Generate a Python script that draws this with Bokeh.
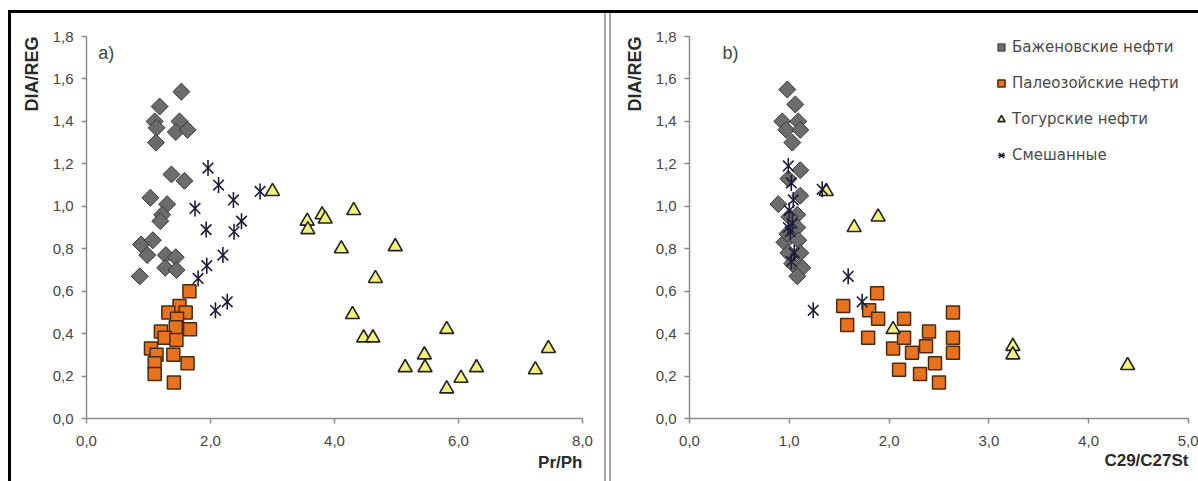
import math
from bokeh.plotting import figure
from bokeh.layouts import row, column
from bokeh.models import (Range1d, FixedTicker, CustomJSTickFormatter, Label,
                          Legend, LegendItem, Div, Title)
from bokeh.embed import file_html
from bokeh.resources import INLINE

# ---------------- data ----------------
# Panel a) : Pr/Ph vs DIA/REG
a_baz_x = [1.53, 1.18, 1.10, 1.13, 1.12, 1.50, 1.44, 1.63, 1.37, 1.58, 1.03,
           1.30, 1.22, 1.19, 0.88, 1.07, 0.98, 1.28, 1.44, 1.27, 1.45, 0.86]
a_baz_y = [1.54, 1.47, 1.40, 1.37, 1.30, 1.40, 1.35, 1.36, 1.15, 1.12, 1.04,
           1.01, 0.96, 0.93, 0.82, 0.84, 0.77, 0.77, 0.76, 0.71, 0.70, 0.67]

a_pal_x = [1.66, 1.50, 1.32, 1.60, 1.46, 1.20, 1.67, 1.44, 1.26, 1.45, 1.04,
           1.13, 1.40, 1.63, 1.10, 1.10, 1.41]
a_pal_y = [0.60, 0.53, 0.50, 0.50, 0.47, 0.41, 0.42, 0.43, 0.38, 0.37, 0.33,
           0.30, 0.30, 0.26, 0.26, 0.21, 0.17]

a_tog_x = [3.00, 3.56, 3.57, 3.80, 3.85, 4.31, 4.11, 4.98, 4.66, 4.29, 4.47,
           4.62, 5.81, 5.45, 5.46, 5.14, 5.81, 6.04, 6.29, 7.24, 7.45]
a_tog_y = [1.07, 0.93, 0.89, 0.96, 0.94, 0.98, 0.80, 0.81, 0.66, 0.49, 0.38,
           0.38, 0.42, 0.30, 0.24, 0.24, 0.14, 0.19, 0.24, 0.23, 0.33]

a_mix_x = [1.96, 2.13, 2.37, 1.75, 2.50, 2.38, 1.93, 2.20, 1.94, 1.80, 2.08,
           2.27, 2.80]
a_mix_y = [1.18, 1.10, 1.03, 0.99, 0.93, 0.88, 0.89, 0.77, 0.72, 0.66, 0.51,
           0.55, 1.07]

# Panel b) : C29/C27St vs DIA/REG
b_baz_x = [0.98, 1.06, 0.93, 1.09, 0.97, 1.11, 1.03, 1.11, 0.99, 1.11, 0.89,
           1.08, 1.08, 0.95, 1.09, 0.99, 1.11, 1.03, 1.13, 1.08, 1.00, 0.98]
b_baz_y = [1.55, 1.48, 1.40, 1.40, 1.36, 1.36, 1.30, 1.17, 1.13, 1.05, 1.01,
           0.96, 0.90, 0.83, 0.84, 0.78, 0.78, 0.73, 0.71, 0.67, 0.95, 0.87]

b_pal_x = [1.54, 1.58, 1.88, 1.80, 1.89, 1.79, 2.04, 2.15, 2.15, 2.10, 2.23,
           2.31, 2.40, 2.37, 2.46, 2.50, 2.64, 2.64, 2.64]
b_pal_y = [0.53, 0.44, 0.59, 0.51, 0.47, 0.38, 0.33, 0.47, 0.38, 0.23, 0.31,
           0.21, 0.41, 0.34, 0.26, 0.17, 0.50, 0.38, 0.31]

b_tog_x = [1.37, 1.65, 1.89, 2.04, 3.24, 3.24, 4.39]
b_tog_y = [1.07, 0.90, 0.95, 0.42, 0.34, 0.30, 0.25]

b_mix_x = [0.99, 1.02, 1.04, 1.00, 1.03, 1.01, 0.99, 1.05, 1.02, 1.59, 1.24,
           1.73, 1.33]
b_mix_y = [1.19, 1.11, 1.03, 0.98, 0.92, 0.88, 0.90, 0.78, 0.74, 0.67, 0.51,
           0.55, 1.08]

series_names = ["Баженовские нефти", "Палеозойские нефти", "Тогурские нефти", "Смешанные"]
y_ticks = [0.0, 0.2, 0.4, 0.6, 0.8, 1.0, 1.2, 1.4, 1.6, 1.8]
a_x_ticks = [0, 2, 4, 6, 8]
b_x_ticks = [0, 1, 2, 3, 4, 5]

# ---------------- styling ----------------
FONT = "Liberation Sans"
AXIS_COL = "#8a8a8a"
TXT_COL = "#454545"
TITLE_COL = "#2a2a2a"
fmt = CustomJSTickFormatter(code="return tick.toFixed(1).replace('.', ',');")

H = 468


def side_title(text, standoff, size):
    t = Title(text=text, align="right", text_font=FONT, text_font_style="bold",
              text_font_size=size, text_color=TITLE_COL)
    try:
        t.standoff = standoff
    except Exception:
        pass
    return t


def make_panel(width, left_border, right_border, xmax, xticks, xlabel, xstandoff,
               tag, tag_x, data, legend=False):
    p = figure(width=width, height=H, output_backend="svg", toolbar_location=None,
               x_range=Range1d(0, xmax), y_range=Range1d(0, 1.8),
               min_border_left=left_border, min_border_right=right_border,
               min_border_top=23, min_border_bottom=63)
    p.grid.visible = False
    p.outline_line_color = None
    p.background_fill_color = "white"
    p.border_fill_color = "white"
    for ax, ticks in ((p.xaxis[0], xticks), (p.yaxis[0], y_ticks)):
        ax.ticker = FixedTicker(ticks=ticks)
        ax.formatter = fmt
        ax.axis_line_color = AXIS_COL
        ax.axis_line_width = 1.5
        ax.major_tick_line_color = AXIS_COL
        ax.major_tick_line_width = 1.5
        ax.major_tick_out = 5
        ax.major_tick_in = 0
        ax.minor_tick_line_color = None
        ax.major_label_text_font = FONT
        ax.major_label_text_font_size = "15px"
        ax.major_label_text_color = TXT_COL
    p.xaxis.major_label_standoff = 12
    p.yaxis.major_label_standoff = 8

    # axis titles placed at the axis ends (as in the original figure)
    p.add_layout(side_title("DIA/REG", 16, "18px"), "left")
    p.add_layout(side_title(xlabel, xstandoff, "17px"), "below")

    (bx, by), (px_, py_), (tx, ty), (mx, my) = data
    r_baz = p.scatter(bx, by, marker="square", size=12, angle=math.pi / 4,
                      fill_color="#6c6c6c", line_color="#383838", line_width=1)
    r_pal = p.scatter(px_, py_, marker="square", size=13,
                      fill_color="#e8731f", line_color="#4a2a12", line_width=1.5)
    r_tog = p.scatter(tx, ty, marker="triangle", size=14,
                      fill_color="#f3f27a", line_color="#222222", line_width=1.6)
    r_mix1 = p.scatter(mx, my, marker="x", size=15, line_color="#1c1c3a", line_width=1.6)
    r_mix2 = p.scatter(mx, my, marker="dash", size=16, angle=math.pi / 2,
                       line_color="#1c1c3a", line_width=1.6)

    p.add_layout(Label(x=tag_x, y=1.72, text=tag, text_align="left",
                       text_baseline="middle", text_font=FONT, text_font_size="18px",
                       text_color=TXT_COL))

    if legend:
        items = [LegendItem(label=series_names[0], renderers=[r_baz]),
                 LegendItem(label=series_names[1], renderers=[r_pal]),
                 LegendItem(label=series_names[2], renderers=[r_tog]),
                 LegendItem(label=series_names[3], renderers=[r_mix1, r_mix2])]
        lg = Legend(items=items, location=(303, 252), padding=0, margin=0,
                    spacing=14, glyph_width=18, glyph_height=22, label_height=22,
                    label_standoff=2, label_text_font="DejaVu Sans",
                    label_text_font_size="15px", label_text_color="#4a4a4a",
                    background_fill_alpha=0, border_line_alpha=0)
        p.add_layout(lg, "center")
    return p


p1 = make_panel(593, 74, 22, 8, a_x_ticks, "Pr/Ph", 4, "a)", 0.19,
                ((a_baz_x, a_baz_y), (a_pal_x, a_pal_y), (a_tog_x, a_tog_y),
                 (a_mix_x, a_mix_y)))

p2 = make_panel(587, 78, 10, 5, b_x_ticks, "C29/C27St", 0, "b)", 0.33,
                ((b_baz_x, b_baz_y), (b_pal_x, b_pal_y), (b_tog_x, b_tog_y),
                 (b_mix_x, b_mix_y)), legend=True)


def bar(w, h, color):
    return Div(text="", width=w, height=h, margin=0,
               styles={"background-color": color})


inner = column(bar(1190, 3, "#000000"),
               row(bar(3, H, "#000000"), p1, bar(2, H, "#a6a6a6"), bar(3, H, "#ffffff"),
                   bar(2, H, "#a6a6a6"), p2, spacing=0),
               spacing=0)
layout = column(bar(1198, 10, "#ffffff"),
                row(bar(8, H + 3, "#ffffff"), inner, spacing=0),
                spacing=0)

open("out.html", "w").write(file_html(layout, INLINE))
